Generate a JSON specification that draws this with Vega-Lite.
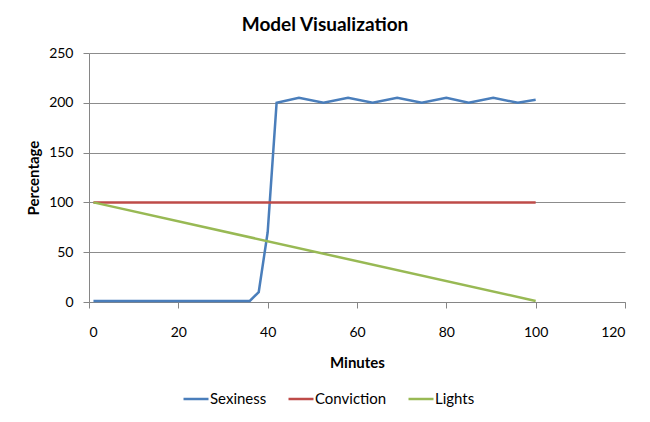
{
  "$schema": "https://vega.github.io/schema/vega-lite/v6.json",
  "autosize": "none",
  "width": 536,
  "height": 249,
  "padding": {"top": 53, "left": 89, "right": 25, "bottom": 120},
  "background": "white",
  "title": {
    "text": "Model Visualization",
    "font": "Lato",
    "fontSize": 19,
    "fontWeight": "bold",
    "color": "black",
    "anchor": "middle",
    "frame": "group",
    "dx": -32,
    "baseline": "alphabetic",
    "offset": -4
  },
  "data": {
    "values": [
      {"series": "Sexiness", "minute": 1, "value": 1},
      {"series": "Sexiness", "minute": 36, "value": 1},
      {"series": "Sexiness", "minute": 38, "value": 10},
      {"series": "Sexiness", "minute": 40, "value": 70},
      {"series": "Sexiness", "minute": 42, "value": 200},
      {"series": "Sexiness", "minute": 47, "value": 205},
      {"series": "Sexiness", "minute": 52.5, "value": 200},
      {"series": "Sexiness", "minute": 58, "value": 205},
      {"series": "Sexiness", "minute": 63.5, "value": 200},
      {"series": "Sexiness", "minute": 69, "value": 205},
      {"series": "Sexiness", "minute": 74.5, "value": 200},
      {"series": "Sexiness", "minute": 80, "value": 205},
      {"series": "Sexiness", "minute": 85, "value": 200},
      {"series": "Sexiness", "minute": 90.5, "value": 205},
      {"series": "Sexiness", "minute": 96, "value": 200},
      {"series": "Sexiness", "minute": 100, "value": 203},
      {"series": "Conviction", "minute": 1, "value": 100},
      {"series": "Conviction", "minute": 100, "value": 100},
      {"series": "Lights", "minute": 1, "value": 100},
      {"series": "Lights", "minute": 100, "value": 1}
    ]
  },
  "mark": {"type": "line", "strokeWidth": 2.5},
  "encoding": {
    "x": {
      "field": "minute",
      "type": "quantitative",
      "title": "Minutes",
      "scale": {"domain": [0, 120], "nice": false},
      "axis": {"values": [0, 20, 40, 60, 80, 100, 120], "grid": false, "tickSize": 6, "labelPadding": 17, "titlePadding": 16}
    },
    "y": {
      "field": "value",
      "type": "quantitative",
      "title": "Percentage",
      "scale": {"domain": [0, 250], "nice": false},
      "axis": {"values": [0, 50, 100, 150, 200, 250], "grid": true, "tickSize": 6, "labelPadding": 10, "titlePadding": 7}
    },
    "color": {
      "field": "series",
      "type": "nominal",
      "sort": ["Sexiness", "Conviction", "Lights"],
      "scale": {"domain": ["Sexiness", "Conviction", "Lights"], "range": ["#4A7EBB", "#BE4B48", "#98B954"]},
      "legend": {
        "title": null,
        "orient": "none",
        "direction": "horizontal",
        "legendX": 93,
        "legendY": 332,
        "symbolType": "stroke",
        "symbolSize": 625,
        "symbolStrokeWidth": 2.5,
        "labelFont": "Lato",
        "labelFontSize": 15,
        "labelColor": "black",
        "labelOffset": 0,
        "columnPadding": 16
      }
    }
  },
  "config": {
    "view": {"stroke": null},
    "axis": {
      "domainColor": "#868686",
      "tickColor": "#868686",
      "gridColor": "#8c8c8c",
      "labelColor": "black",
      "labelFont": "Lato",
      "labelFontSize": 14,
      "titleFont": "Lato",
      "titleFontSize": 15,
      "titleFontWeight": "bold",
      "titleColor": "black"
    }
  }
}
